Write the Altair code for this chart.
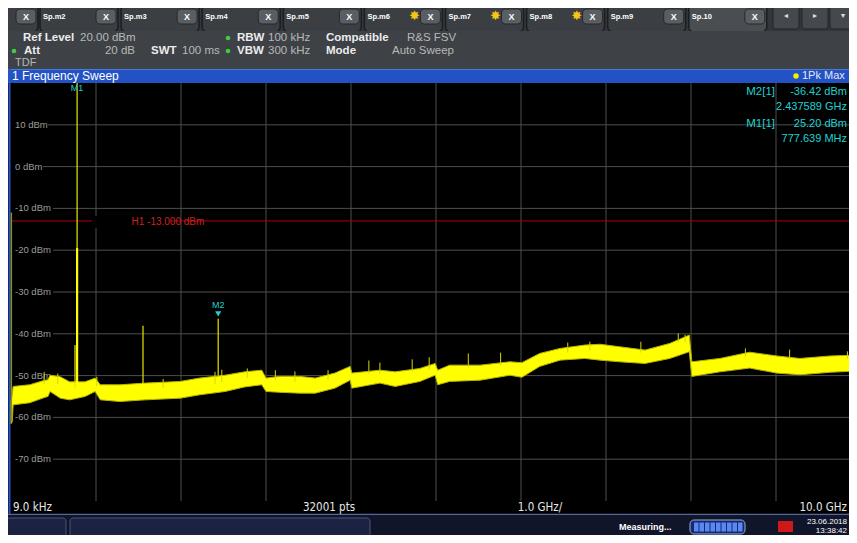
import altair as alt
import pandas as pd

# ---------------- data ----------------
trace_f = [0.000, 0.015, 0.025, 0.22, 0.40, 0.435, 0.46, 0.58, 0.69, 0.87, 0.99, 1.05,
           1.28, 1.58, 1.99, 2.22, 2.52, 2.75, 2.95, 3.00, 3.16, 3.40, 3.58, 3.81,
           3.99, 4.01, 4.34, 4.52, 4.81, 4.99, 5.02, 5.16, 5.52, 5.87, 6.01, 6.22,
           6.46, 6.75, 6.93, 7.16, 7.46, 7.75, 7.98, 8.01, 8.34, 8.69, 9.01, 9.28,
           9.64, 9.95]
trace_top = [-56.0, -54.5, -52.6, -52.2, -51.1, -51.0, -49.9, -50.3, -51.5, -51.5, -50.6, -52.2,
             -52.2, -51.8, -51.4, -50.6, -49.9, -49.1, -48.7, -50.6, -50.2, -50.2, -50.6, -49.4,
             -47.8, -49.4, -48.7, -49.1, -48.3, -47.1, -48.7, -47.5, -47.5, -46.7, -46.9, -44.7,
             -43.5, -42.7, -42.5, -43.1, -43.9, -42.3, -40.3, -46.7, -45.9, -44.4, -45.3, -45.9,
             -45.3, -45.1]
trace_bot = [-61.5, -61.0, -57.0, -56.5, -55.2, -55.0, -53.8, -55.4, -55.8, -55.0, -53.8, -55.8,
             -56.2, -55.8, -55.4, -54.6, -53.8, -52.7, -52.2, -53.8, -54.0, -54.2, -54.2, -53.0,
             -51.1, -53.0, -51.8, -52.6, -51.4, -49.9, -52.2, -51.4, -51.1, -49.9, -50.4, -47.8,
             -46.3, -45.9, -46.3, -46.7, -47.1, -45.9, -44.3, -50.2, -49.1, -48.2, -49.4, -49.8,
             -49.2, -48.9]

spur_f = [0.39, 0.55, 1.01, 1.79, 2.40, 2.48, 2.78, 3.11, 3.34, 3.73, 4.21, 4.34,
          4.72, 4.92, 5.38, 5.76, 6.55, 6.81, 7.41, 7.85, 7.93, 8.64, 9.16, 9.84]
spur_top = [-49.1, -49.5, -50.3, -50.8, -49.1, -48.6, -48.3, -48.7, -49.0, -48.7, -46.4, -46.9,
            -46.1, -45.6, -44.7, -44.5, -42.1, -41.9, -41.9, -39.9, -40.2, -43.5, -43.8, -44.2]
spur_base = [-52.0, -52.0, -52.5, -53.0, -52.0, -51.5, -50.5, -51.0, -51.5, -51.0, -49.5, -49.5,
             -49.0, -48.5, -48.0, -47.5, -44.5, -44.0, -44.5, -42.0, -42.0, -45.5, -46.0, -46.0]

spike_f = [0.753, 1.553, 2.437589]
spike_top = [-42.7, -38.1, -36.42]
spike_base = [-53.0, -52.0, -50.0]

m1_f, m1_db = 0.777639, 25.20
m2_f, m2_db = 2.437589, -36.42
dc_f, dc_top, dc_base = 0.004, -11.0, -61.0

grid_f = [1, 2, 3, 4, 5, 6, 7, 8, 9]
ytick_db = [10, 0, -10, -20, -30, -40, -50, -60, -70]
h1_db = -13.0

tab_names = ["Sp.m2", "Sp.m3", "Sp.m4", "Sp.m5", "Sp.m6", "Sp.m7", "Sp.m8", "Sp.m9", "Sp.10"]
tab_star = [False, False, False, False, True, True, True, False, False]

# ---------------- layout helpers ----------------
FONT = "Liberation Sans"
NARROW = "'Liberation Sans Narrow', 'DejaVu Sans Condensed', 'Liberation Sans', sans-serif"
X0, Y0 = 11, 83          # plot origin in window pixels
PW, PH = 838, 418        # plot area
GRID = "#4e4e4e"
CYAN = "#1ed2d2"
one = pd.DataFrame({"k": [0]})
layers = []

xs = alt.Scale(domain=[0, PW / 85.0], nice=False, zero=False)
ys = alt.Scale(domain=[-80, 20], nice=False, zero=False)


def X(f):
    return alt.X(f, type="quantitative", scale=xs, axis=None)


def Y(f):
    return alt.Y(f, type="quantitative", scale=ys, axis=None)


def px(x):
    return x - X0


def py(y):
    return y - Y0


def box(x1, y1, x2, y2, fill, stroke=None, sw=1.0, r=0):
    kw = dict(fill=fill, cornerRadius=r)
    if stroke:
        kw.update(stroke=stroke, strokeWidth=sw)
    else:
        kw.update(strokeWidth=0)
    layers.append(alt.Chart(one).mark_rect(**kw).encode(
        x=alt.value(px(x1)), x2=alt.value(px(x2)), y=alt.value(py(y1)), y2=alt.value(py(y2))))


def label(s, x, y, color, size=11.5, weight="normal", align="left", font=FONT):
    layers.append(alt.Chart(one).mark_text(
        text=s, align=align, baseline="middle", color=color, fontSize=size,
        fontWeight=weight, font=font).encode(x=alt.value(px(x)), y=alt.value(py(y))))


def hline(y, x1, x2, color, sw=1.0):
    layers.append(alt.Chart(one).mark_rule(color=color, strokeWidth=sw).encode(
        x=alt.value(px(x1)), x2=alt.value(px(x2)), y=alt.value(py(y))))


def vline(x, y1, y2, color, sw=1.0):
    layers.append(alt.Chart(one).mark_rule(color=color, strokeWidth=sw).encode(
        x=alt.value(px(x)), y=alt.value(py(y1)), y2=alt.value(py(y2))))


def dot(x, y, color, size=22):
    layers.append(alt.Chart(one).mark_circle(color=color, size=size, opacity=1).encode(
        x=alt.value(px(x)), y=alt.value(py(y))))


# ---------------- header: tab bar ----------------
box(0, 0, 870, 31, "#33373b")
box(-20, 5, 38, 32, "#3b3f43", stroke="#1b1e21", sw=1.5, r=5)
box(16, 9, 36, 24, "#5a5e62", stroke="#25282b", sw=1, r=4)
label("X", 26, 16.5, "#ffffff", size=9, weight="bold", align="center")
for i, name in enumerate(tab_names):
    s = 40 + 81.1 * i
    active = name == "Sp.10"
    box(s, 3 if active else 5, s + 78, 32, "#4a4e52" if active else "#3b3f43",
        stroke="#1b1e21", sw=1.5, r=5)
    label(name, s + 3, 17, "#ffffff", size=7.5, weight="bold")
    box(s + 56, 9, s + 76, 24, "#5a5e62", stroke="#25282b", sw=1, r=4)
    label("X", s + 66, 16.5, "#ffffff", size=9, weight="bold", align="center")
    if tab_star[i]:
        label("\u2738", s + 50, 16, "#f5c518", size=13, align="center", font="DejaVu Sans")
for bx0, glyph in [(773, "\u25c2"), (802, "\u25b8"), (830, "\u25be")]:
    box(bx0, 3, bx0 + 26, 29, "#45494d", stroke="#222528", sw=1, r=3)
    label(glyph, bx0 + 13, 16, "#e0e0e0", size=8, align="center", font="DejaVu Sans")

# ---------------- header: info panel ----------------
box(0, 31, 870, 69, "#3e4246")
LBL, VAL = "#ececec", "#b8b8b8"
label("Ref Level", 23, 37.5, LBL, weight="bold")
label("20.00 dBm", 80, 37.5, VAL)
dot(14, 51, "#3ccf3c")
label("Att", 24, 51, LBL, weight="bold")
label("20 dB", 135, 51, VAL, align="right")
label("SWT", 151, 51, LBL, weight="bold")
label("100 ms", 182, 51, VAL)
dot(228, 38, "#3ccf3c")
dot(228, 51, "#3ccf3c")
label("RBW", 237, 37.5, LBL, weight="bold")
label("100 kHz", 268, 37.5, VAL)
label("VBW", 237, 51, LBL, weight="bold")
label("300 kHz", 268, 51, VAL)
label("Compatible", 326, 37.5, LBL, weight="bold")
label("R&S FSV", 407, 37.5, VAL)
label("Mode", 326, 51, LBL, weight="bold")
label("Auto Sweep", 392, 51, VAL)
label("TDF", 15, 62.5, VAL, size=11)

# ---------------- blue title bar ----------------
box(0, 69, 870, 83, "#2352c4")
hline(69.5, 0, 870, "#4a78e0", 1)
label("1 Frequency Sweep", 12, 76, "#ffffff", size=12)
dot(796, 76, "#f0f000", size=30)
label("1Pk Max", 802, 76, "#e4e8f4", size=11)

# ---------------- footer + status bar ----------------
box(0, 501, 870, 515, "#000000")
hline(514.5, 0, 870, "#5566a0", 1.5)
box(0, 515.5, 870, 545, "#10152a")
box(6, 518, 66, 540, "#1c2342", stroke="#4a5578", sw=1, r=3)
box(70, 518, 370, 540, "#1c2342", stroke="#4a5578", sw=1, r=3)
label("Measuring...", 619, 527, "#ffffff", size=9, weight="bold")
box(690, 520, 745, 534, "#142a70", stroke="#9ab0e0", sw=1, r=4)
for k in range(9):
    box(694 + k * 5.5, 522.5, 698.5 + k * 5.5, 531.5, "#5a88f0")
box(778, 521, 793, 532, "#d01818")
label("23.06.2018", 847, 521.5, "#ffffff", size=8, align="right")
label("13:38:42", 847, 530.5, "#ffffff", size=8, align="right")
FOOT = "#e8e8e8"
label("9.0 kHz", 13, 507.5, FOOT, size=11.5, font=NARROW)
label("32001 pts", 329, 507.5, FOOT, size=11.5, align="center", font=NARROW)
label("1.0 GHz/", 540, 507.5, FOOT, size=11.5, align="center", font=NARROW)
label("10.0 GHz", 847, 507.5, FOOT, size=11.5, align="right", font=NARROW)

# left blue frame
vline(9.5, 69, 514, "#2a55c8", 2)

# ---------------- plot: grid ----------------
layers.append(alt.Chart(pd.DataFrame({"f": grid_f})).mark_rule(color=GRID, strokeWidth=1).encode(
    x=X("f"), y=alt.value(0), y2=alt.value(PH)))
for v in ytick_db:
    start = 48 if v == 10 else (43 if v == 0 else 53)
    layers.append(alt.Chart(pd.DataFrame({"db": [v]})).mark_rule(color=GRID, strokeWidth=1).encode(
        y=Y("db"), x=alt.value(px(start)), x2=alt.value(PW)))
layers.append(alt.Chart(pd.DataFrame({"db": ytick_db, "lab": [f"{v} dBm" for v in ytick_db]}))
              .mark_text(align="left", baseline="middle", color="#9c9c9c", fontSize=9.5, font=FONT)
              .encode(y=Y("db"), x=alt.value(px(15)), text="lab:N"))

# H1 display line
layers.append(alt.Chart(pd.DataFrame({"db": [h1_db]})).mark_rule(color="#b00000", strokeWidth=1).encode(
    y=Y("db"), x=alt.value(0), x2=alt.value(PW)))
box(92, 216, 171, 228, "#000000")
label("H1 -13.000 dBm", 131.5, 222, "#d02020", size=10)

# ---------------- trace ----------------
tdf = pd.DataFrame({"f": trace_f, "top": trace_top, "bot": trace_bot})
layers.append(alt.Chart(tdf).mark_area(color="#ffff00", opacity=1, interpolate="linear",
                                       stroke="#b4b400", strokeWidth=1).encode(
    x=X("f"), y=Y("top"), y2=alt.Y2("bot")))

sdf = pd.DataFrame({"f": spur_f, "top": spur_top, "base": spur_base})
layers.append(alt.Chart(sdf).mark_rule(color="#d6d600", strokeWidth=1).encode(
    x=X("f"), y=Y("top"), y2=alt.Y2("base")))

kdf = pd.DataFrame({"f": spike_f, "top": spike_top, "base": spike_base})
layers.append(alt.Chart(kdf).mark_rule(color="#e6e600", strokeWidth=1.2).encode(
    x=X("f"), y=Y("top"), y2=alt.Y2("base")))

# 0 Hz feed-through at the left edge
layers.append(alt.Chart(pd.DataFrame({"f": [dc_f], "top": [dc_top], "base": [dc_base]}))
              .mark_rule(color="#8e8e2a", strokeWidth=1.5)
              .encode(x=X("f"), y=Y("top"), y2=alt.Y2("base")))

# M1 carrier (clipped at the top of the screen)
m1df = pd.DataFrame({"f": [m1_f], "top": [m1_db], "base": [-53.0], "mid": [-19.5]})
layers.append(alt.Chart(m1df).mark_rule(color="#e8e800", strokeWidth=1.2, clip=True).encode(
    x=X("f"), y=Y("top"), y2=alt.Y2("base")))
layers.append(alt.Chart(m1df).mark_rule(color="#ffff00", strokeWidth=2.2, clip=True).encode(
    x=X("f"), y=Y("mid"), y2=alt.Y2("base")))

# ---------------- markers ----------------
m2df = pd.DataFrame({"f": [m2_f], "db": [m2_db]})
layers.append(alt.Chart(m2df).mark_point(shape="triangle-down", filled=True, size=38, color=CYAN,
                                         opacity=1, yOffset=-5).encode(x=X("f"), y=Y("db")))
layers.append(alt.Chart(m2df).mark_text(text="M2", color=CYAN, fontSize=9, font=FONT, yOffset=-14,
                                        baseline="middle").encode(x=X("f"), y=Y("db")))
m1top = pd.DataFrame({"f": [m1_f], "db": [20.0]})
layers.append(alt.Chart(m1top).mark_text(text="M1", color=CYAN, fontSize=9, font=FONT, yOffset=5,
                                         baseline="middle").encode(x=X("f"), y=Y("db")))

# marker table
label("M2[1]", 775, 92, CYAN, size=11.5, align="right")
label("-36.42 dBm", 847, 92, CYAN, size=11, align="right")
label("2.437589 GHz", 847, 107, CYAN, size=11, align="right")
label("M1[1]", 775, 124, CYAN, size=11.5, align="right")
label("25.20 dBm", 847, 124, CYAN, size=11, align="right")
label("777.639 MHz", 847, 139, CYAN, size=11, align="right")

chart = alt.layer(*layers).properties(
    width=PW, height=PH,
    padding={"left": 3, "top": 75, "right": 0, "bottom": 34},
    autosize=alt.AutoSizeParams(type="none"),
    background="#000000",
).configure_view(strokeWidth=0, fill="#000000")

chart.save("out.html", embed_options={"renderer": "svg", "actions": False})
